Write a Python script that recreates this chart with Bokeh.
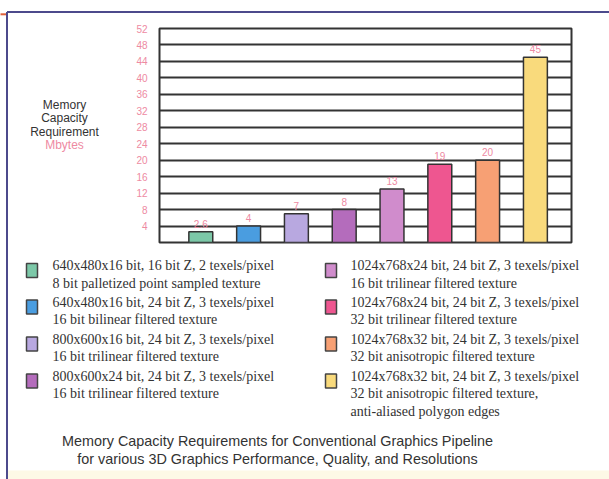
from bokeh.plotting import figure
from bokeh.models import Range1d, FixedTicker, ColumnDataSource
from bokeh.core.properties import value
from bokeh.embed import file_html
from bokeh.resources import INLINE

# ---------------- data ----------------
values = [2.6, 4, 7, 8, 13, 19, 20, 45]
value_labels = ["2.6", "4", "7", "8", "13", "19", "20", "45"]
bar_colors = ["#7cc8a8", "#4a9de0", "#b8a8e0", "#b46cbc",
              "#d08ccc", "#ee5690", "#f7a074", "#f9da7c"]
y_ticks = [4, 8, 12, 16, 20, 24, 28, 32, 36, 40, 44, 48, 52]
legend_labels = [
    "640x480x16 bit, 16 bit Z, 2 texels/pixel\n8 bit palletized point sampled texture",
    "640x480x16 bit, 24 bit Z, 3 texels/pixel\n16 bit bilinear filtered texture",
    "800x600x16 bit, 24 bit Z, 3 texels/pixel\n16 bit trilinear filtered texture",
    "800x600x24 bit, 24 bit Z, 3 texels/pixel\n16 bit trilinear filtered texture",
    "1024x768x24 bit, 24 bit Z, 3 texels/pixel\n16 bit trilinear filtered texture",
    "1024x768x24 bit, 24 bit Z, 3 texels/pixel\n32 bit trilinear filtered texture",
    "1024x768x32 bit, 24 bit Z, 3 texels/pixel\n32 bit anisotropic filtered texture",
    "1024x768x32 bit, 24 bit Z, 3 texels/pixel\n32 bit anisotropic filtered texture,\nanti-aliased polygon edges",
]
axis_title = ["Memory", "Capacity", "Requirement"]
axis_unit = "Mbytes"
title_lines = ["Memory Capacity Requirements for Conventional Graphics Pipeline",
               "for various 3D Graphics Performance, Quality, and Resolutions"]

# ---------------- layout constants (canvas pixels) ----------------
W, H = 609, 479
FL, FR, FT, FB = 159, 571, 28, 242          # plot frame
PINK = "#ee8aa2"
DARK = "#333333"

idx = list(range(len(values)))

p = figure(width=W, height=H, output_backend="svg", toolbar_location=None,
           x_range=Range1d(-0.864, 7.755), y_range=Range1d(0, 52),
           x_axis_type=None, min_border_left=FL, min_border_right=W - FR,
           min_border_top=FT, min_border_bottom=H - FB)
p.background_fill_color = "white"
p.border_fill_color = "white"
p.outline_line_color = DARK
p.outline_line_width = 2

# pixel coordinate ranges for the decorations (values == canvas pixels)
p.extra_x_ranges = {"px": Range1d(FL, FR)}
p.extra_y_ranges = {"py": Range1d(FB, FT)}

ax = p.yaxis[0]
ax.ticker = FixedTicker(ticks=y_ticks)
ax.axis_line_color = None
ax.major_tick_line_color = None
ax.minor_tick_line_color = None
ax.major_label_text_color = PINK
ax.major_label_text_font = "Liberation Sans"
ax.major_label_text_font_size = "10px"
ax.major_label_standoff = 6
p.xgrid.visible = False
p.ygrid.grid_line_color = DARK
p.ygrid.grid_line_width = 2
p.ygrid.ticker = FixedTicker(ticks=y_ticks)

src = ColumnDataSource(dict(x=idx, top=values, color=bar_colors, lab=value_labels))
p.vbar(x="x", top="top", width=0.5, source=src, fill_color="color",
       line_color=DARK, line_width=1.5)
p.text(x="x", y="top", text="lab", source=src, y_offset=-8,
       text_align="center", text_baseline="middle", text_color=PINK,
       text_font=value("Liberation Sans"), text_font_size="10px")

# ---------------- outer frame ----------------
p.quad(left=[7.5], right=[W], top=[470], bottom=[H], fill_color="#fdf9e6",
       line_color=None, x_range_name="px", y_range_name="py", level="overlay")
p.multi_line(xs=[[6.5, 6.5], [6.5, W]], ys=[[H, 11.5], [11.5, 11.5]],
             line_color="#4c4a8c", line_width=2,
             x_range_name="px", y_range_name="py", level="overlay")
p.multi_line(xs=[[0, 5.5]], ys=[[13.8, 13.8]], line_color="#e0603a", line_width=2,
             x_range_name="px", y_range_name="py", level="overlay")

# ---------------- legend ----------------
col_sw = [26, 325]
col_tx = [52, 350]
row_y = [265, 301.5, 338.5, 375.5]
line_h = 17.7
sw_l, sw_r, sw_t, sw_b, tx, ty, tt = [], [], [], [], [], [], []
for i, lab in enumerate(legend_labels):
    c, r = divmod(i, 4)
    y0 = row_y[r]
    sw_l.append(col_sw[c]); sw_r.append(col_sw[c] + 11)
    sw_t.append(y0 - 2); sw_b.append(y0 + 12)
    for k, line in enumerate(lab.split("\n")):
        tx.append(col_tx[c]); ty.append(y0 + k * line_h); tt.append(line)
p.quad(left=sw_l, right=sw_r, top=sw_t, bottom=sw_b, fill_color=bar_colors,
       line_color="#444444", line_width=1.5,
       x_range_name="px", y_range_name="py", level="overlay")
p.text(x=tx, y=ty, text=tt, text_align="left", text_baseline="middle",
       text_color=DARK, text_font=value("Liberation Serif"), text_font_size="14px",
       x_range_name="px", y_range_name="py", level="overlay")

# ---------------- axis title ----------------
at_y = [104, 117.5, 131]
p.text(x=[64] * len(axis_title), y=at_y, text=axis_title, text_align="center",
       text_baseline="middle", text_color=DARK, text_font=value("Liberation Sans"),
       text_font_size="12px", x_range_name="px", y_range_name="py", level="overlay")
p.text(x=[64], y=[144.5], text=[axis_unit], text_align="center",
       text_baseline="middle", text_color=PINK, text_font=value("Liberation Sans"),
       text_font_size="12px", x_range_name="px", y_range_name="py", level="overlay")

# ---------------- chart title ----------------
p.text(x=[277, 277], y=[440, 458], text=title_lines, text_align="center",
       text_baseline="middle", text_color=DARK, text_font=value("Liberation Sans"),
       text_font_size="14.4px", x_range_name="px", y_range_name="py", level="overlay")

open("out.html", "w").write(file_html(p, INLINE))
